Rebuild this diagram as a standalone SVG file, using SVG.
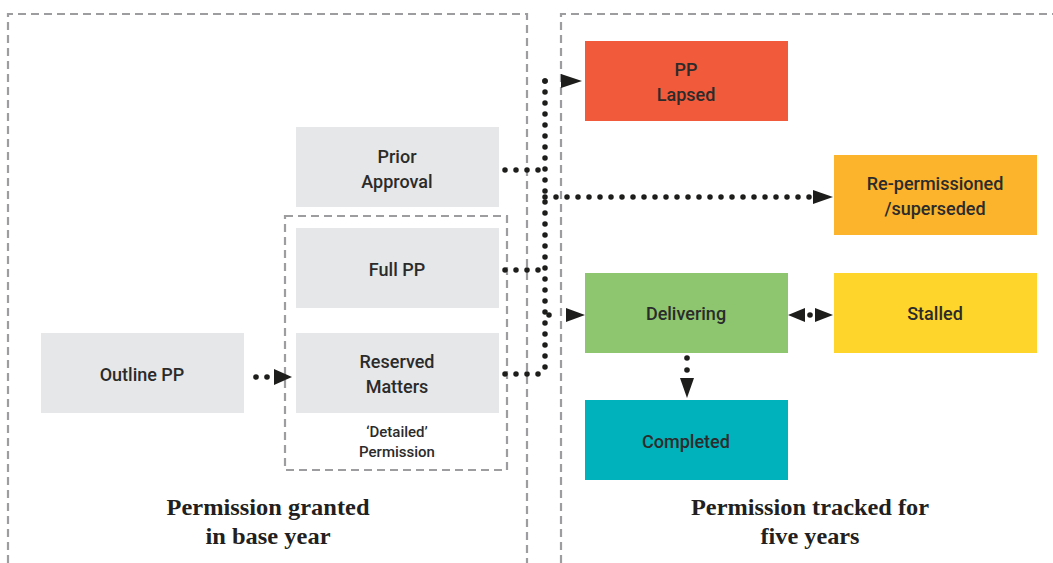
<svg xmlns="http://www.w3.org/2000/svg" width="1053" height="563" viewBox="0 0 1053 563">
<defs>
<style>
.frame{fill:none;stroke:#9d9d9f;stroke-width:2.2;stroke-dasharray:8 5}
.node rect{stroke:none}
.gray{fill:#e6e7e8}
.lbl{font-family:Roboto,"Liberation Sans",sans-serif;font-size:18px;font-weight:500;fill:#2b2b2b;text-anchor:middle}
.small{font-family:Roboto,"Liberation Sans",sans-serif;font-size:15px;font-weight:500;fill:#2b2b2b;text-anchor:middle}
.title{font-family:"Liberation Serif","DejaVu Serif",serif;font-size:23px;font-weight:bold;fill:#231f20;text-anchor:middle}
.dot{fill:none;stroke:#1d1d1b;stroke-width:5.5;stroke-linecap:round;stroke-dasharray:0 11}
.head{fill:#1d1d1b}
</style>
</defs>
<g id="frames">
<path class="frame" d="M8 563 V14 H527 V563"/>
<path class="frame" d="M561 563 V14 H1053"/>
<rect class="frame" x="285" y="216" width="222" height="254"/>
</g>
<g id="prior-approval" class="node"><rect class="gray" x="296" y="127" width="203" height="80"/><text class="lbl" x="397" y="163">Prior</text><text class="lbl" x="397" y="188">Approval</text></g>
<g id="full-pp" class="node"><rect class="gray" x="296" y="228" width="203" height="80"/><text class="lbl" x="397" y="276">Full PP</text></g>
<g id="reserved-matters" class="node"><rect class="gray" x="296" y="333" width="203" height="80"/><text class="lbl" x="397" y="368">Reserved</text><text class="lbl" x="397" y="393">Matters</text></g>
<g id="detailed-label"><text class="small" x="397" y="437">‘Detailed’</text><text class="small" x="397" y="457">Permission</text></g>
<g id="outline-pp" class="node"><rect class="gray" x="41" y="333" width="203" height="80"/><text class="lbl" x="142" y="381">Outline PP</text></g>
<g id="pp-lapsed" class="node"><rect fill="#f15a3a" x="585" y="41" width="203" height="80"/><text class="lbl" x="686" y="76">PP</text><text class="lbl" x="686" y="101">Lapsed</text></g>
<g id="re-permissioned" class="node"><rect fill="#fbb42b" x="834" y="155" width="203" height="80"/><text class="lbl" x="935" y="190">Re-permissioned</text><text class="lbl" x="935" y="215">/superseded</text></g>
<g id="delivering" class="node"><rect fill="#8dc66f" x="585" y="273" width="203" height="80"/><text class="lbl" x="686" y="320">Delivering</text></g>
<g id="stalled" class="node"><rect fill="#fdd52b" x="834" y="273" width="203" height="80"/><text class="lbl" x="935" y="320">Stalled</text></g>
<g id="completed" class="node"><rect fill="#00b2bc" x="585" y="400" width="203" height="80"/><text class="lbl" x="686" y="448">Completed</text></g>
<g id="connectors">
<path class="dot" d="M545 81 V374"/>
<path class="dot" d="M505 170 H545"/>
<path class="dot" d="M505 270 H545"/>
<path class="dot" d="M505 374 H545"/>
<path class="dot" d="M545 81 H556"/>
<polygon class="head" points="561,74 582,81 561,88"/>
<path class="dot" d="M545 197 H820"/>
<polygon class="head" points="813,190 833,197 813,204"/>
<path class="dot" d="M549 315 H560"/>
<polygon class="head" points="566,308 585,315 566,322"/>
<circle class="head" cx="810" cy="315" r="2.8"/>
<polygon class="head" points="788,315 805,308 805,322"/>
<polygon class="head" points="815,308 833,315 815,322"/>
<circle class="head" cx="687" cy="358" r="2.8"/>
<circle class="head" cx="687" cy="370" r="2.8"/>
<polygon class="head" points="680,378 694,378 687,398"/>
<circle class="head" cx="256" cy="377" r="2.8"/>
<circle class="head" cx="267" cy="377" r="2.8"/>
<polygon class="head" points="274,369 292,377 274,385"/>
</g>
<g id="titles">
<text class="title" x="268" y="515" textLength="203" lengthAdjust="spacingAndGlyphs">Permission granted</text>
<text class="title" x="268" y="544" textLength="125" lengthAdjust="spacingAndGlyphs">in base year</text>
<text class="title" x="810" y="515" textLength="238" lengthAdjust="spacingAndGlyphs">Permission tracked for</text>
<text class="title" x="810" y="544" textLength="99" lengthAdjust="spacingAndGlyphs">five years</text>
</g>
</svg>
